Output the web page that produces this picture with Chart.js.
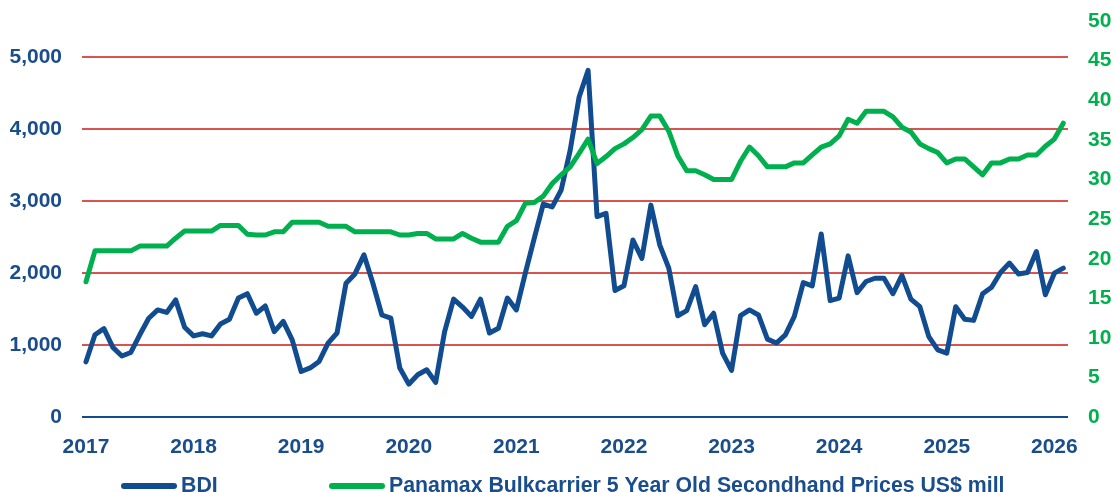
<!DOCTYPE html>
<html>
<head>
<meta charset="utf-8">
<script src="https://cdn.jsdelivr.net/npm/chart.js@4.4.1/dist/chart.umd.min.js"></script>
<style>
  html, body { margin: 0; padding: 0; background: #fff; }
  #wrap { width: 1116px; height: 492px; }
</style>
</head>
<body>
<div id="wrap"><canvas id="bdiChart"></canvas></div>
<script>
// monthly values, Jan 2017 .. Feb 2026
const startYear = 2017;
const bdi = [
  770, 1145, 1230, 970, 850, 900, 1145, 1375, 1490, 1455, 1630, 1250,
  1130, 1160, 1130, 1295, 1360, 1655, 1715, 1445, 1545, 1190, 1330, 1075,
  635, 685, 775, 1030, 1170, 1860, 1990, 2255, 1860, 1420, 1375, 685,
  460, 590, 660, 485, 1190, 1640, 1530, 1400, 1640, 1170, 1235, 1655,
  1490, 2000, 2485, 2960, 2920, 3155, 3705, 4445, 4815, 2785, 2830, 1760,
  1825, 2460, 2205, 2945, 2390, 2070, 1410, 1480, 1815, 1285, 1445, 890,
  650, 1410, 1490, 1420, 1085, 1030, 1145, 1400, 1870, 1825, 2545, 1620,
  1655, 2240, 1730, 1885, 1930, 1930, 1715, 1970, 1640, 1535, 1120, 935,
  890, 1535, 1360, 1345, 1715, 1805, 2010, 2140, 1990, 2010, 2300, 1700,
  2000, 2070
];
const panamax = [
  17.1, 21.0, 21.0, 21.0, 21.0, 21.0, 21.6, 21.6, 21.6, 21.6, 22.6, 23.5,
  23.5, 23.5, 23.5, 24.2, 24.2, 24.2, 23.1, 23.0, 23.0, 23.4, 23.4, 24.6,
  24.6, 24.6, 24.6, 24.1, 24.1, 24.1, 23.4, 23.4, 23.4, 23.4, 23.4, 23.0,
  23.0, 23.2, 23.2, 22.5, 22.5, 22.5, 23.2, 22.6, 22.1, 22.1, 22.1, 24.1,
  24.8, 27.0, 27.1, 27.9, 29.5, 30.6, 31.6, 33.3, 35.1, 32.0, 32.9, 33.9,
  34.5, 35.3, 36.3, 38.0, 38.0, 36.1, 33.0, 31.1, 31.1, 30.6, 30.0, 30.0,
  30.0, 32.3, 34.1, 33.0, 31.6, 31.6, 31.6, 32.1, 32.1, 33.1, 34.1, 34.5,
  35.5, 37.6, 37.1, 38.6, 38.6, 38.6, 37.9, 36.6, 36.0, 34.5, 33.9, 33.4,
  32.1, 32.6, 32.6, 31.6, 30.6, 32.1, 32.1, 32.6, 32.6, 33.1, 33.1, 34.2,
  35.1, 37.1
];
const yearTicks = [2017, 2018, 2019, 2020, 2021, 2022, 2023, 2024, 2025, 2026];
const bdiTicks = [0, 1000, 2000, 3000, 4000, 5000];
const priceTicks = [0, 5, 10, 15, 20, 25, 30, 35, 40, 45, 50];
const seriesNames = ['BDI', 'Panamax Bulkcarrier 5 Year Old Secondhand Prices US$ mill'];

const BLUE = '#114c91';
const TEXT_BLUE = '#1a4d8c';
const GREEN = '#00b04f';
const RED = '#d9534f';

const toPoints = arr => arr.map((v, i) => ({ x: startYear + i / 12, y: v }));

// legend row drawn under the axis, spaced like the original
const bottomLegend = {
  id: 'bottomLegend',
  afterDraw(chart) {
    const ctx = chart.ctx;
    const y = 486;
    const starts = [121, 329];
    ctx.save();
    ctx.font = 'bold 21.3px "Liberation Sans", Arial, sans-serif';
    ctx.textBaseline = 'middle';
    ctx.textAlign = 'left';
    chart.data.datasets.forEach((ds, i) => {
      const x = starts[i];
      ctx.strokeStyle = ds.borderColor;
      ctx.lineWidth = 6;
      ctx.lineCap = 'round';
      ctx.beginPath();
      ctx.moveTo(x + 3, y);
      ctx.lineTo(x + 53, y);
      ctx.stroke();
      ctx.fillStyle = TEXT_BLUE;
      ctx.fillText(ds.label, x + 60, y);
    });
    ctx.restore();
  }
};

// fixed axis widths; drop the extra vertical room chart.js adds for tick padding
const fitY = width => axis => {
  axis.width = width;
  axis.paddingTop = 0;
  axis.paddingBottom = 0;
};

Chart.defaults.font.family = '"Liberation Sans", Arial, sans-serif';
Chart.defaults.font.size = 21;
Chart.defaults.font.weight = 'bold';

new Chart(document.getElementById('bdiChart'), {
  type: 'line',
  data: {
    datasets: [
      {
        label: seriesNames[0],
        data: toPoints(bdi),
        yAxisID: 'y',
        borderColor: BLUE,
        borderWidth: 5,
        order: 1
      },
      {
        label: seriesNames[1],
        data: toPoints(panamax),
        yAxisID: 'y2',
        borderColor: GREEN,
        borderWidth: 5,
        order: 0
      }
    ]
  },
  options: {
    responsive: true,
    maintainAspectRatio: false,
    animation: false,
    layout: { padding: { top: 21, left: 10, right: 5, bottom: 23.5 } },
    elements: {
      point: { radius: 0 },
      line: { tension: 0, borderCapStyle: 'round', borderJoinStyle: 'round' }
    },
    plugins: {
      legend: { display: false },
      tooltip: { enabled: false }
    },
    scales: {
      x: {
        type: 'linear',
        min: 2016.963,
        max: 2026.127,
        afterBuildTicks: axis => { axis.ticks = yearTicks.map(v => ({ value: v })); },
        ticks: { color: TEXT_BLUE, padding: 9, maxRotation: 0, callback: v => String(v) },
        grid: { display: false },
        border: { display: false }
      },
      y: {
        position: 'left',
        min: 0,
        max: 5500,
        afterBuildTicks: axis => { axis.ticks = bdiTicks.map(v => ({ value: v })); },
        afterFit: fitY(72),
        ticks: { color: TEXT_BLUE, padding: 20 },
        grid: {
          drawTicks: false,
          lineWidth: 2,
          color: c => (c.tick && c.tick.value === 0 ? BLUE : RED)
        },
        border: { display: false }
      },
      y2: {
        position: 'right',
        min: 0,
        max: 50,
        afterBuildTicks: axis => { axis.ticks = priceTicks.map(v => ({ value: v })); },
        afterFit: fitY(43),
        ticks: { color: GREEN, padding: 20 },
        grid: { display: false, drawTicks: false },
        border: { display: false }
      }
    }
  },
  plugins: [bottomLegend]
});
</script>
</body>
</html>
